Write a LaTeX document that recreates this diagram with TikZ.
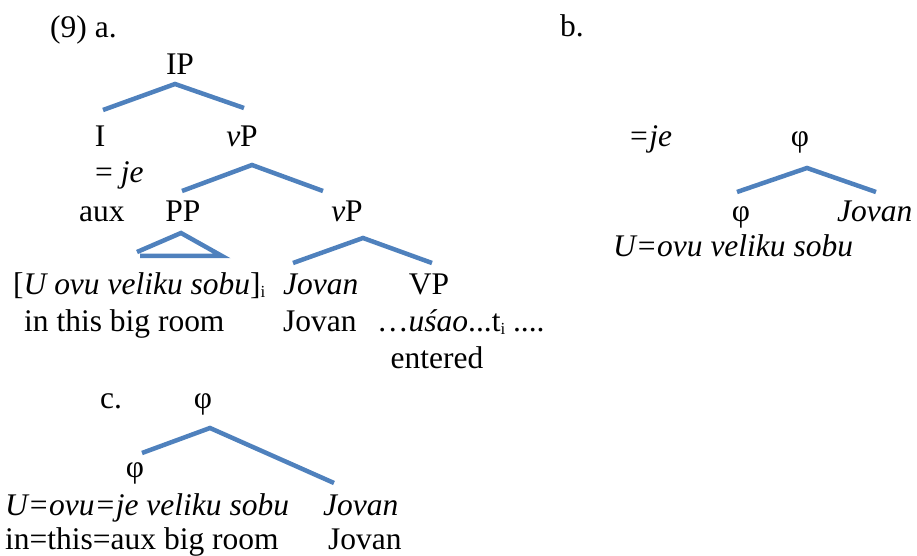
\documentclass[tikz,border=0pt]{standalone}
\usepackage{fontspec}
\setmainfont{Liberation Serif}
\usetikzlibrary{positioning}
\definecolor{treeblue}{RGB}{79,129,189}
\newcommand{\tidx}{\raisebox{-3bp}{\fontsize{17pt}{17pt}\selectfont i}}
\tikzset{
  % plain text pieces, placed by their left baseline point
  txt/.style    = {inner sep=0pt, anchor=base west},
  % tree labels, centred on their baseline
  cat/.style    = {inner sep=0pt, anchor=base},
  % branch lines
  branch/.style = {draw=treeblue, line width=4.5bp, line join=miter},
}
\begin{document}
\begin{tikzpicture}[x=1bp, y=-1bp, font=\fontsize{31.6pt}{36pt}\selectfont]
  \useasboundingbox (0,0) rectangle (917,556);

  % --- (9a): the clause tree ---
  \node[txt] (ex9) at (50,38) {(9) a.};
  \node[cat] (ip) at (180,75) {IP};
  \node[cat] (infl) at (100,147) {I};
  \node[cat] (vp1) at (242,147) {\textit{v}P};
  \node[txt] (je) at (95,183) {= \textit{je}};
  \node[txt] (aux) at (79,222) {aux};
  \node[cat] (pp) at (183,222) {PP};
  \node[cat] (vp2) at (347,222) {\textit{v}P};
  \node[txt] (ppw) at (13,295) {[\textit{U ovu veliku sobu}]\tidx};
  \node[txt] (ppg) at (24,332) {in this big room};
  \node[txt] (jov1) at (283,295) {\textit{Jovan}};
  \node[txt] (jov1g) at (283,332) {Jovan};
  \node[cat] (vpbar) at (429,295) {VP};
  \node[txt] (verb) at (377,332) {\dots\textit{uśao}...t\tidx\ ....};
  \node[cat] (verbg) at (437,368) {entered};

  \coordinate (ipL) at (103,110);  \coordinate (ipT) at (175,84);  \coordinate (ipR) at (244,108);
  \coordinate (v1L) at (182,191);  \coordinate (v1T) at (252,165); \coordinate (v1R) at (323,191);
  \coordinate (trL) at (137,252);  \coordinate (trT) at (181,233); \coordinate (trR) at (222,256);
  \coordinate (trB) at (140,256);
  \coordinate (v2L) at (293,263);  \coordinate (v2T) at (363,238); \coordinate (v2R) at (432,263);

  \draw[branch] (ipL) -- (ipT) -- (ipR);
  \draw[branch] (v1L) -- (v1T) -- (v1R);
  \draw[branch] (trL) -- (trT) -- (trR) -- (trB);
  \draw[branch] (v2L) -- (v2T) -- (v2R);

  % --- (9b): prosodic phrasing ---
  \node[txt] (exb) at (560,37) {b.};
  \node[txt] (jeb) at (628,147) {\textit{=je}};
  \node[cat] (phib) at (800,147) {φ};
  \node[cat] (phib2) at (741,222) {φ};
  \node[txt] (jovb) at (837,222) {\textit{Jovan}};
  \node[txt] (uovb) at (613,257) {\textit{U=ovu veliku sobu}};

  \coordinate (bL) at (737,192); \coordinate (bT) at (807,168); \coordinate (bR) at (876,192);
  \draw[branch] (bL) -- (bT) -- (bR);

  % --- (9c): clitic inside the phrase ---
  \node[txt] (exc) at (100,408) {c.};
  \node[cat] (phic) at (203,408) {φ};
  \node[cat] (phic2) at (135,477) {φ};
  \node[txt] (uovc) at (5,515) {\textit{U=ovu=je veliku sobu}};
  \node[txt] (jovc) at (323,515) {\textit{Jovan}};
  \node[txt] (glc) at (5,549) {in=this=aux big room};
  \node[txt] (jovcg) at (328,549) {Jovan};

  \coordinate (cL) at (142,453); \coordinate (cT) at (210,428); \coordinate (cR) at (334,483);
  \draw[branch] (cL) -- (cT) -- (cR);

\end{tikzpicture}
\end{document}
